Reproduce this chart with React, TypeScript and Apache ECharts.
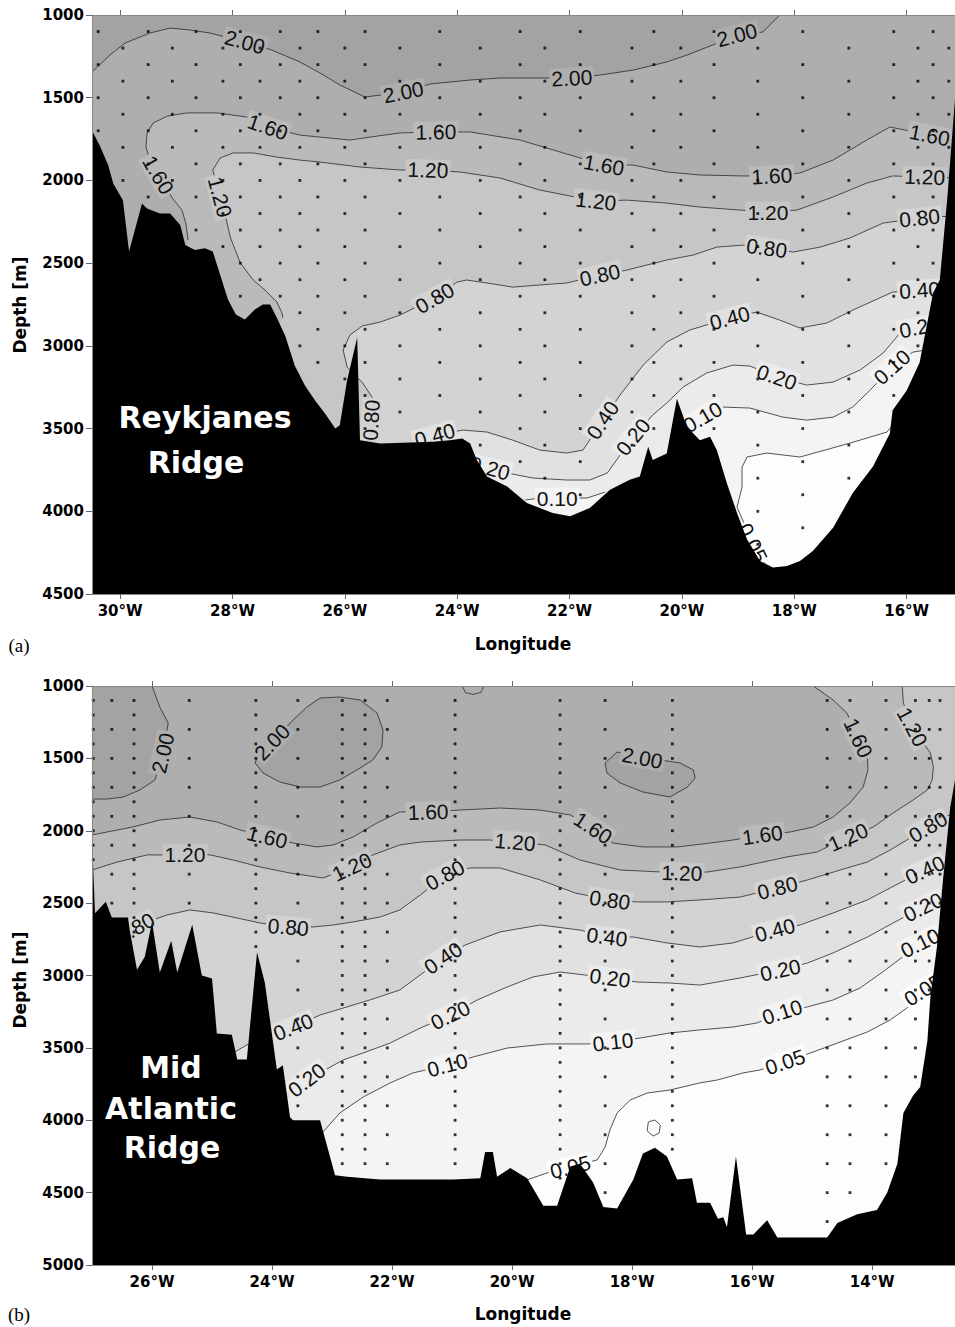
import React, { useEffect, useRef } from "react";
import * as echarts from "echarts";

type P = [number, number];

// ---------------- ticks ----------------
const xTicksA = [-30, -28, -26, -24, -22, -20, -18, -16];
const xTicksB = [-26, -24, -22, -20, -18, -16, -14];

// fill colour of the region deeper than each contour level
const FILL: Record<string, string> = {
  top: "#a3a3a3",
  "2.00": "#aeaeae",
  "1.60": "#bababa",
  "1.20": "#c6c6c6",
  "0.80": "#d3d3d3",
  "0.40": "#e1e1e1",
  "0.20": "#ebebeb",
  "0.10": "#f4f4f4",
  "0.05": "#fdfdfd",
};

// ---------------- Panel (a): Reykjanes Ridge ----------------
const bathyA: P[] = [[-30.50,1700],[-30.36,1790],[-30.21,1910],[-30.12,2020],[-29.95,2120],[-29.84,2430],[-29.61,2140],[-29.52,2170],[-29.29,2200],[-29.11,2200],[-28.93,2270],[-28.84,2390],[-28.67,2420],[-28.49,2410],[-28.35,2430],[-28.22,2570],[-28.08,2720],[-27.94,2810],[-27.78,2840],[-27.60,2780],[-27.46,2750],[-27.33,2750],[-27.21,2830],[-27.06,2940],[-26.89,3120],[-26.71,3240],[-26.53,3330],[-26.35,3410],[-26.17,3500],[-26.09,3480],[-25.96,3210],[-25.78,2950],[-25.73,3570],[-25.37,3590],[-24.43,3580],[-24.13,3570],[-23.91,3560],[-23.77,3590],[-23.65,3690],[-23.47,3790],[-23.11,3850],[-22.76,3950],[-22.30,4010],[-21.99,4030],[-21.64,3980],[-21.28,3870],[-20.93,3810],[-20.75,3790],[-20.60,3610],[-20.52,3690],[-20.27,3650],[-20.09,3320],[-19.91,3490],[-19.68,3570],[-19.50,3550],[-19.38,3630],[-19.20,3830],[-19.02,4010],[-18.84,4170],[-18.61,4300],[-18.38,4340],[-18.13,4330],[-17.90,4300],[-17.67,4240],[-17.31,4100],[-16.96,3890],[-16.60,3730],[-16.30,3530],[-16.25,3390],[-16.00,3270],[-15.77,3100],[-15.53,2680],[-15.41,2600],[-15.28,2120],[-15.14,1510]];

const c200A: P[] = [[-30.50,1345],[-30.18,1242],[-29.91,1169],[-29.47,1109],[-29.11,1079],[-28.75,1091],[-28.40,1109],[-27.78,1163],[-27.30,1212],[-26.80,1284],[-26.44,1351],[-26.09,1423],[-25.64,1496],[-24.96,1466],[-24.48,1417],[-23.77,1393],[-23.24,1381],[-22.53,1381],[-21.96,1381],[-21.46,1363],[-20.87,1333],[-20.27,1284],[-19.91,1242],[-19.45,1181],[-19.02,1121],[-18.56,1103],[-18.26,1000]];
const c160A: P[] = [[-28.79,2360],[-28.83,2258],[-28.90,2179],[-29.07,2106],[-29.32,1967],[-29.47,1877],[-29.54,1798],[-29.52,1713],[-29.41,1653],[-29.16,1611],[-28.81,1592],[-28.27,1592],[-27.74,1617],[-27.37,1677],[-26.80,1726],[-26.44,1738],[-25.91,1756],[-25.55,1738],[-25.02,1713],[-24.38,1707],[-23.77,1707],[-22.88,1756],[-22.17,1828],[-21.39,1907],[-20.87,1907],[-20.27,1949],[-19.68,1967],[-18.91,1973],[-18.40,1973],[-17.90,1955],[-17.31,1877],[-16.71,1756],[-16.30,1677],[-15.59,1726],[-15.14,1756]];
const c120A: P[] = [[-27.10,2830],[-27.12,2800],[-27.21,2735],[-27.42,2663],[-27.63,2602],[-27.86,2499],[-28.04,2342],[-28.10,2252],[-28.22,2100],[-28.35,1937],[-28.22,1865],[-27.99,1834],[-27.63,1834],[-27.21,1859],[-26.80,1877],[-26.44,1889],[-25.73,1919],[-25.02,1937],[-24.52,1937],[-23.95,1949],[-23.24,1985],[-22.53,2058],[-21.53,2125],[-20.98,2119],[-20.27,2137],[-19.68,2161],[-18.97,2179],[-18.47,2191],[-17.95,2179],[-17.31,2100],[-16.71,2016],[-16.25,1973],[-15.68,1979],[-15.14,1985]];
const c080A: P[] = [[-25.52,3570],[-25.53,3449],[-25.48,3328],[-25.68,3225],[-25.96,3128],[-26.03,3025],[-25.91,2935],[-25.69,2880],[-25.37,2856],[-25.02,2814],[-24.40,2711],[-24.00,2614],[-23.83,2602],[-23.47,2620],[-23.01,2645],[-22.53,2632],[-22.05,2620],[-21.46,2572],[-20.98,2542],[-20.27,2481],[-19.80,2451],[-19.38,2403],[-18.91,2391],[-18.49,2409],[-18.02,2433],[-17.54,2403],[-17.01,2348],[-16.42,2258],[-15.77,2227],[-15.14,2215]];
const c040A: P[] = [[-24.75,3588],[-24.40,3540],[-23.90,3509],[-23.47,3521],[-23.01,3570],[-22.53,3630],[-22.05,3648],[-21.76,3630],[-21.41,3449],[-21.10,3297],[-20.69,3116],[-20.27,2977],[-19.86,2904],[-19.15,2832],[-18.67,2796],[-18.26,2844],[-17.90,2892],[-17.42,2862],[-16.96,2784],[-16.25,2675],[-15.77,2663],[-15.14,2651]];
const c020A: P[] = [[-23.63,3721],[-23.42,3739],[-23.11,3769],[-22.65,3799],[-22.05,3811],[-21.64,3811],[-21.33,3769],[-21.10,3660],[-20.87,3551],[-20.52,3418],[-20.27,3346],[-19.98,3249],[-19.56,3164],[-19.09,3116],[-18.79,3122],[-18.31,3189],[-17.78,3237],[-17.31,3219],[-16.83,3146],[-16.42,3044],[-16.12,2923],[-15.77,2886],[-15.14,2856]];
const c010A1: P[] = [[-22.79,3932],[-22.53,3920],[-22.22,3920],[-21.69,3920],[-21.37,3884]];
const c010A2: P[] = [[-19.89,3491],[-19.63,3431],[-19.27,3370],[-18.79,3376],[-18.20,3431],[-17.78,3449],[-17.31,3431],[-16.96,3370],[-16.65,3267],[-16.26,3128],[-15.89,3038],[-15.14,2995]];
const c005A: P[] = [[-18.49,4337],[-18.74,4192],[-19.02,3975],[-18.93,3854],[-18.93,3733],[-18.84,3672],[-18.49,3648],[-17.90,3672],[-17.01,3588],[-16.35,3521],[-16.25,3479]];

const labelsA: [number, number, string][] = [
  [-27.78,1163,"2.00"],[-24.96,1466,"2.00"],[-21.96,1381,"2.00"],[-19.02,1121,"2.00"],
  [-29.32,1967,"1.60"],[-27.37,1677,"1.60"],[-24.38,1707,"1.60"],[-21.39,1907,"1.60"],[-18.40,1973,"1.60"],[-15.59,1726,"1.60"],
  [-28.22,2100,"1.20"],[-24.52,1937,"1.20"],[-21.53,2125,"1.20"],[-18.47,2191,"1.20"],[-15.68,1979,"1.20"],
  [-25.53,3449,"0.80"],[-24.40,2711,"0.80"],[-21.46,2572,"0.80"],[-18.49,2409,"0.80"],[-15.77,2227,"0.80"],
  [-24.40,3540,"0.40"],[-21.41,3449,"0.40"],[-19.15,2832,"0.40"],[-15.77,2663,"0.40"],
  [-23.42,3739,"0.20"],[-20.87,3551,"0.20"],[-18.31,3189,"0.20"],[-15.77,2886,"0.20"],
  [-22.22,3920,"0.10"],[-19.63,3431,"0.10"],[-16.26,3128,"0.10"],
  [-18.74,4192,"0.05"],
];

const stationsA1 = [-30.39, -29.50, -28.65, -27.86, -27.15, -26.48, -25.64, -24.31, -22.88, -21.81, -20.50, -19.43, -17.85, -16.23, -15.53];
const stationsA2 = [-29.95, -29.07, -28.17, -27.51, -26.80, -26.00, -25.02, -23.59, -22.44, -20.89, -20.02, -18.65, -17.03, -15.80, -15.25];
const depthsA1 = [1100, 1300, 1500, 1700, 1900, 2100, 2300, 2500, 2700, 2900, 3100, 3300, 3500, 3700, 3900, 4100, 4300];
const depthsA2 = [1200, 1400, 1600, 1800, 2000, 2200, 2400, 2600, 2800, 3000, 3200, 3400, 3600, 3800, 4000, 4200, 4400];

// ---------------- Panel (b): Mid Atlantic Ridge ----------------
const bathyB: P[] = [[-27.00,2060],[-26.95,2570],[-26.77,2490],[-26.67,2600],[-26.40,2600],[-26.37,2690],[-26.25,2960],[-26.12,2870],[-26.00,2630],[-25.87,2980],[-25.68,2760],[-25.58,2980],[-25.33,2650],[-25.17,3000],[-25.00,3020],[-24.92,3400],[-24.67,3410],[-24.58,3580],[-24.42,3580],[-24.25,2840],[-24.12,3050],[-23.92,3650],[-23.82,3620],[-23.70,3980],[-23.65,4000],[-23.20,4000],[-22.95,4380],[-22.75,4390],[-22.20,4410],[-21.42,4410],[-20.98,4410],[-20.53,4400],[-20.45,4220],[-20.32,4220],[-20.25,4390],[-20.03,4330],[-19.75,4400],[-19.48,4590],[-19.25,4590],[-19.03,4320],[-18.87,4300],[-18.65,4430],[-18.48,4600],[-18.25,4610],[-17.98,4410],[-17.82,4230],[-17.62,4190],[-17.42,4250],[-17.25,4410],[-17.00,4400],[-16.92,4570],[-16.70,4570],[-16.57,4680],[-16.48,4670],[-16.42,4740],[-16.27,4250],[-16.10,4790],[-15.98,4790],[-15.75,4690],[-15.58,4810],[-14.75,4810],[-14.58,4710],[-14.25,4650],[-13.92,4620],[-13.75,4500],[-13.58,4300],[-13.48,3950],[-13.32,3830],[-13.20,3770],[-13.08,3450],[-13.03,3150],[-12.92,2800],[-12.82,2340],[-12.70,1840],[-12.62,1650]];

const c200B1: P[] = [[-26.00,1000],[-25.87,1145],[-25.73,1256],[-25.82,1463],[-25.95,1649],[-26.20,1718],[-26.48,1767],[-26.75,1781],[-27.00,1781]];
const c200B2: P[] = [[-24.28,1532],[-24.15,1601],[-23.87,1663],[-23.53,1698],[-23.20,1698],[-22.87,1649],[-22.53,1566],[-22.32,1511],[-22.17,1421],[-22.15,1304],[-22.25,1187],[-22.53,1097],[-22.87,1076],[-23.20,1083],[-23.42,1145],[-23.65,1235],[-24.00,1387],[-24.25,1490],[-24.28,1532]];
const c200B3: P[] = [[-18.25,1456],[-18.45,1532],[-18.42,1601],[-18.20,1670],[-17.82,1732],[-17.37,1767],[-17.08,1698],[-16.95,1636],[-16.98,1580],[-17.20,1532],[-17.53,1511],[-17.83,1497],[-18.25,1456]];
const c160B: P[] = [[-27.00,2029],[-26.32,1974],[-25.87,1926],[-25.37,1905],[-24.92,1939],[-24.53,1995],[-24.08,2043],[-23.65,2085],[-23.25,2112],[-22.98,2098],[-22.65,2043],[-22.25,1946],[-21.87,1870],[-21.40,1870],[-20.87,1857],[-20.20,1843],[-19.53,1857],[-19.03,1891],[-18.65,1981],[-18.32,2085],[-17.82,2112],[-17.25,2112],[-16.70,2085],[-16.32,2064],[-15.83,2029],[-15.37,2009],[-14.98,1974],[-14.65,1905],[-14.37,1808],[-14.15,1698],[-14.07,1580],[-14.08,1490],[-14.23,1359],[-14.42,1187],[-14.65,1097],[-14.98,1000]];
const c120B: P[] = [[-27.00,2271],[-26.58,2216],[-26.08,2167],[-25.45,2167],[-25.03,2167],[-24.65,2202],[-24.20,2250],[-23.70,2292],[-23.15,2326],[-22.67,2250],[-22.32,2167],[-21.87,2098],[-21.53,2078],[-20.87,2064],[-20.37,2064],[-19.95,2078],[-19.45,2098],[-18.87,2202],[-18.20,2271],[-17.17,2292],[-16.75,2285],[-16.20,2250],[-15.42,2181],[-14.92,2147],[-14.40,2043],[-13.98,1974],[-13.65,1877],[-13.32,1788],[-13.08,1718],[-13.00,1649],[-12.98,1560],[-13.03,1463],[-13.33,1283],[-13.48,1117],[-13.50,1000]];
const c080B: P[] = [[-26.37,2699],[-26.28,2672],[-26.08,2630],[-25.75,2582],[-25.37,2547],[-24.98,2568],[-24.58,2603],[-24.20,2637],[-23.73,2665],[-23.32,2665],[-22.98,2651],[-22.65,2630],[-22.20,2596],[-21.87,2547],[-21.53,2444],[-21.12,2306],[-20.70,2257],[-20.20,2257],[-19.53,2340],[-18.95,2430],[-18.37,2478],[-17.92,2492],[-17.42,2492],[-16.87,2478],[-16.20,2458],[-15.58,2395],[-15.08,2340],[-14.53,2271],[-14.08,2216],[-13.70,2133],[-13.42,2064],[-13.07,1974],[-12.62,1870]];
const c040B: P[] = [[-24.62,3528],[-24.42,3480],[-24.03,3411],[-23.65,3356],[-23.20,3273],[-22.75,3217],[-22.37,3169],[-21.87,3100],[-21.53,2996],[-21.15,2879],[-20.78,2789],[-20.20,2699],[-19.53,2651],[-18.87,2686],[-18.42,2734],[-17.98,2734],[-17.42,2775],[-16.87,2803],[-16.32,2775],[-15.62,2686],[-15.20,2651],[-14.65,2568],[-14.08,2478],[-13.70,2395],[-13.12,2271],[-12.62,2188]];
const c020B: P[] = [[-23.67,3825],[-23.42,3722],[-23.20,3673],[-22.82,3584],[-22.48,3535],[-22.03,3466],[-21.53,3363],[-21.03,3273],[-20.58,3169],[-20.08,3079],[-19.65,3010],[-19.20,2976],[-18.37,3017],[-17.92,3045],[-17.37,3052],[-16.87,3066],[-16.20,3017],[-15.53,2962],[-15.08,2914],[-14.65,2844],[-14.08,2734],[-13.65,2637],[-13.15,2527],[-12.62,2430]];
const c010B: P[] = [[-23.15,4081],[-22.87,3950],[-22.48,3839],[-22.03,3742],[-21.65,3673],[-21.08,3618],[-20.65,3563],[-20.08,3501],[-19.42,3473],[-18.75,3473],[-18.32,3459],[-17.87,3432],[-17.37,3397],[-16.87,3376],[-16.32,3356],[-15.92,3328],[-15.50,3252],[-15.08,3217],[-14.65,3169],[-14.20,3086],[-13.78,2962],[-13.45,2858],[-13.20,2775],[-12.62,2686]];
const c005B: P[] = [[-19.75,4412],[-19.37,4357],[-19.03,4323],[-18.58,4274],[-18.45,4185],[-18.37,4067],[-18.25,3950],[-18.03,3860],[-17.75,3812],[-17.37,3791],[-16.87,3742],[-16.58,3722],[-16.15,3673],[-15.87,3653],[-15.45,3597],[-14.98,3528],[-14.53,3459],[-14.08,3390],[-13.70,3307],[-13.42,3224],[-13.28,3169],[-13.15,3100],[-12.62,2996]];
const loopSmallB: P[] = [[-17.73,4012],[-17.62,3998],[-17.53,4033],[-17.55,4088],[-17.65,4109],[-17.75,4074],[-17.73,4012]];
const loopTopB: P[] = [[-20.83,1000],[-20.78,1045],[-20.65,1058],[-20.52,1045],[-20.47,1000]];

const labelsB: [number, number, string][] = [
  [-25.82,1463,"2.00"],[-24.00,1387,"2.00"],[-17.83,1497,"2.00"],
  [-24.08,2043,"1.60"],[-21.40,1870,"1.60"],[-18.65,1981,"1.60"],[-15.83,2029,"1.60"],[-14.23,1359,"1.60"],
  [-25.45,2167,"1.20"],[-22.67,2250,"1.20"],[-19.95,2078,"1.20"],[-17.17,2292,"1.20"],[-14.40,2043,"1.20"],[-13.33,1283,"1.20"],
  [-26.28,2672,"0.80"],[-23.73,2665,"0.80"],[-21.12,2306,"0.80"],[-18.37,2478,"0.80"],[-15.58,2395,"0.80"],[-13.07,1974,"0.80"],
  [-23.65,3356,"0.40"],[-21.15,2879,"0.40"],[-18.42,2734,"0.40"],[-15.62,2686,"0.40"],[-13.12,2271,"0.40"],
  [-23.42,3722,"0.20"],[-21.03,3273,"0.20"],[-18.37,3017,"0.20"],[-15.53,2962,"0.20"],[-13.15,2527,"0.20"],
  [-21.08,3618,"0.10"],[-18.32,3459,"0.10"],[-15.50,3252,"0.10"],[-13.20,2775,"0.10"],
  [-19.03,4323,"0.05"],[-15.45,3597,"0.05"],[-13.15,3100,"0.05"],
];

const denseStationsB = [-26.98, -26.30, -24.27, -22.83, -22.45, -20.95, -19.20, -17.33];
const sparseStationsB = [-26.67, -25.38, -23.57, -22.08, -18.45, -14.75, -14.37, -13.77, -13.28, -13.05, -12.87];
const depthsDenseB = [1100,1200,1300,1400,1500,1600,1700,1800,1900,2000,2100,2200,2300,2400,2500,2600,2700,2800,2900,3000,3100,3200,3300,3400,3500,3600,3700,3800,3900,4000,4100,4200,4300,4400,4500,4600,4700,4800,4900];
const depthsSparseB = [1100,1300,1500,1700,1900,2100,2300,2500,2700,2900,3100,3300,3500,3700,3900,4100,4300,4500,4700,4900];

// ---------------- helpers ----------------
type Fill = { line: P[]; band: string; close: string[] };
type Contour = { level: string; pts: P[] };
type Bounds = { x0: number; x1: number; y0: number; y1: number };

const boundsA: Bounds = { x0: -30.5, x1: -15.14, y0: 1000, y1: 4500 };
const boundsB: Bounds = { x0: -27.0, x1: -12.62, y0: 1000, y1: 5000 };

const fillsA: Fill[] = [
  { line: c200A, band: "2.00", close: ["tr", "br", "bl"] },
  { line: c160A, band: "1.60", close: ["br", "bl"] },
  { line: c120A, band: "1.20", close: ["br", "bl"] },
  { line: c080A, band: "0.80", close: ["br", "bl"] },
  { line: c040A, band: "0.40", close: ["br", "bl"] },
  { line: c020A, band: "0.20", close: ["br", "bl"] },
  { line: c010A1, band: "0.10", close: ["lb", "fb"] },
  { line: c010A2, band: "0.10", close: ["lb", "fb"] },
  { line: c005A, band: "0.05", close: ["lb", "fb"] },
];
const contoursA: Contour[] = [
  { level: "2.00", pts: c200A }, { level: "1.60", pts: c160A }, { level: "1.20", pts: c120A },
  { level: "0.80", pts: c080A }, { level: "0.40", pts: c040A }, { level: "0.20", pts: c020A },
  { level: "0.10", pts: c010A1 }, { level: "0.10", pts: c010A2 }, { level: "0.05", pts: c005A },
];

const fillsB: Fill[] = [
  { line: c200B1, band: "top", close: ["tl"] },
  { line: c200B2, band: "top", close: [] },
  { line: c200B3, band: "top", close: [] },
  { line: c160B, band: "1.60", close: ["tr", "br", "bl"] },
  { line: c120B, band: "1.20", close: ["tr", "br", "bl"] },
  { line: c080B, band: "0.80", close: ["br", "bl"] },
  { line: c040B, band: "0.40", close: ["br", "bl"] },
  { line: c020B, band: "0.20", close: ["br", "bl"] },
  { line: c010B, band: "0.10", close: ["br", "bl"] },
  { line: c005B, band: "0.05", close: ["br", "bl"] },
];
const contoursB: Contour[] = [
  { level: "2.00", pts: c200B1 }, { level: "2.00", pts: c200B2 }, { level: "2.00", pts: c200B3 },
  { level: "1.60", pts: c160B }, { level: "1.20", pts: c120B }, { level: "0.80", pts: c080B },
  { level: "0.40", pts: c040B }, { level: "0.20", pts: c020B }, { level: "0.10", pts: c010B },
  { level: "0.05", pts: c005B }, { level: "0.05", pts: loopSmallB }, { level: "2.00", pts: loopTopB },
];

function bottomAt(bathy: P[], lon: number): number {
  for (let i = 0; i < bathy.length - 1; i++) {
    const [xa, ya] = bathy[i];
    const [xb, yb] = bathy[i + 1];
    if (lon >= xa && lon <= xb) return ya + ((yb - ya) * (lon - xa)) / (xb - xa || 1);
  }
  return 0;
}
function stationDots(stations: number[], depths: number[], bathy: P[]): P[] {
  const out: P[] = [];
  stations.forEach((lon) => {
    const bot = bottomAt(bathy, lon);
    depths.forEach((d) => {
      if (d < bot - 60) out.push([lon, d]);
    });
  });
  return out;
}

function panelSeries(gi: number, b: Bounds, fills: Fill[], contours: Contour[], labels: [number, number, string][], bathy: P[], dots: P[]) {
  const xi = gi * 2;
  const common = { coordinateSystem: "cartesian2d", xAxisIndex: xi, yAxisIndex: gi, silent: true, clip: true };
  const corner = (c: string, line: P[]): P => {
    const first = line[0];
    const last = line[line.length - 1];
    if (c === "tl") return [b.x0, b.y0];
    if (c === "tr") return [b.x1, b.y0];
    if (c === "br") return [b.x1, b.y1];
    if (c === "bl") return [b.x0, b.y1];
    if (c === "lb") return [last[0], b.y1];
    return [first[0], b.y1];
  };
  return [
    {
      type: "custom", ...common, z: 1,
      data: fills.map((f) => f.line[0]),
      renderItem: (params: any, api: any) => {
        const f = fills[params.dataIndex];
        const pts: P[] = f.line.slice();
        f.close.forEach((c) => pts.push(corner(c, f.line)));
        return { type: "polygon", shape: { points: pts.map((p) => api.coord(p)) }, style: { fill: FILL[f.band] } };
      },
    },
    {
      type: "custom", ...common, z: 2,
      data: contours.map((c) => c.pts[0]),
      renderItem: (params: any, api: any) => {
        const c = contours[params.dataIndex];
        return {
          type: "polyline",
          shape: { points: c.pts.map((p) => api.coord(p)) },
          style: { stroke: "#2a2a2a", lineWidth: 0.8, fill: null },
        };
      },
    },
    {
      type: "custom", ...common, z: 3,
      data: labels.map((l) => [l[0], l[1]]),
      renderItem: (params: any, api: any) => {
        const [lon, dep, txt] = labels[params.dataIndex];
        const c = api.coord([lon, dep]);
        let best = Infinity;
        let ang = 0;
        contours.filter((k) => k.level === txt).forEach((k) => {
          const px = k.pts.map((p) => api.coord(p));
          for (let i = 0; i < px.length; i++) {
            const d = Math.hypot(px[i][0] - c[0], px[i][1] - c[1]);
            if (d < best) {
              best = d;
              const p0 = px[Math.max(i - 1, 0)];
              const p1 = px[Math.min(i + 1, px.length - 1)];
              ang = Math.atan2(-(p1[1] - p0[1]), p1[0] - p0[0]);
            }
          }
        });
        if (ang > Math.PI / 2) ang -= Math.PI;
        if (ang <= -Math.PI / 2) ang += Math.PI;
        return {
          type: "text", x: c[0], y: c[1], rotation: ang,
          style: {
            text: txt, font: '21px "Liberation Sans", Arial, sans-serif', fill: "#111",
            align: "center", verticalAlign: "middle", backgroundColor: FILL[txt], padding: [0, 2],
          },
        };
      },
    },
    {
      type: "custom", ...common, z: 4,
      data: [bathy[0]],
      renderItem: (params: any, api: any) => {
        const pts: P[] = bathy.slice();
        pts.push([b.x1, b.y1], [b.x0, b.y1]);
        return { type: "polygon", shape: { points: pts.map((p) => api.coord(p)) }, style: { fill: "#000" } };
      },
    },
    {
      type: "scatter", xAxisIndex: xi, yAxisIndex: gi, silent: true, z: 5,
      symbol: "rect", symbolSize: 2.8, itemStyle: { color: "#000" },
      data: dots,
    },
  ];
}

const axisFont = { fontFamily: "DejaVu Sans", fontWeight: "bold", fontSize: 15, color: "#000" };

function xAxes(gi: number, b: Bounds, ticks: number[]) {
  const base = {
    gridIndex: gi, type: "value", min: b.x0, max: b.x1, z: 10,
    axisLine: { show: true, lineStyle: { color: "#888", width: 1 } },
    axisTick: { show: true, customValues: ticks, length: 5, lineStyle: { color: "#666" } },
    splitLine: { show: false },
  };
  return [
    { ...base, position: "bottom", axisLabel: { ...axisFont, customValues: ticks, margin: 9, formatter: (v: number) => `${Math.abs(v)}°W` } },
    { ...base, position: "top", axisLabel: { show: false } },
  ];
}
function yAxis(gi: number, b: Bounds) {
  return {
    gridIndex: gi, type: "value", inverse: true, min: b.y0, max: b.y1, interval: 500, z: 10,
    axisLine: { show: true, lineStyle: { color: "#888", width: 1 } },
    axisTick: { show: true, length: 6, lineStyle: { color: "#666" } },
    axisLabel: { ...axisFont, margin: 8, formatter: (v: number) => String(v) },
    splitLine: { show: false },
  };
}

export default function App() {
  const ref = useRef<HTMLDivElement>(null);
  useEffect(() => {
    if (!ref.current) return;
    const chart = echarts.init(ref.current, undefined, { renderer: "svg" });
    const dotsA = [...stationDots(stationsA1, depthsA1, bathyA), ...stationDots(stationsA2, depthsA2, bathyA)];
    const dotsB = [...stationDots(denseStationsB, depthsDenseB, bathyB), ...stationDots(sparseStationsB, depthsSparseB, bathyB)];
    const white = (text: string, x: number, y: number) => ({
      type: "text", x, y, z: 100,
      style: { text, font: 'bold 30px "DejaVu Sans"', fill: "#fff", align: "center", verticalAlign: "middle" },
    });
    const black = (text: string, x: number, y: number, font: string, rot = 0) => ({
      type: "text", x, y, z: 100, rotation: rot,
      style: { text, font, fill: "#000", align: "center", verticalAlign: "middle" },
    });
    chart.setOption({
      animation: false,
      backgroundColor: "#fff",
      grid: [
        { left: 92, top: 15, right: 0, height: 579, show: true, backgroundColor: FILL.top, borderWidth: 0 },
        { left: 92, top: 686, right: 0, height: 579, show: true, backgroundColor: FILL["2.00"], borderWidth: 0 },
      ],
      xAxis: [...xAxes(0, boundsA, xTicksA), ...xAxes(1, boundsB, xTicksB)],
      yAxis: [yAxis(0, boundsA), yAxis(1, boundsB)],
      series: [
        ...panelSeries(0, boundsA, fillsA, contoursA, labelsA, bathyA, dotsA),
        ...panelSeries(1, boundsB, fillsB, contoursB, labelsB, bathyB, dotsB),
      ],
      graphic: [
        black("Longitude", 523, 644, 'bold 17px "DejaVu Sans"'),
        black("Longitude", 523, 1314, 'bold 17px "DejaVu Sans"'),
        black("Depth [m]", 20, 305, 'bold 17px "DejaVu Sans"', Math.PI / 2),
        black("Depth [m]", 20, 980, 'bold 17px "DejaVu Sans"', Math.PI / 2),
        black("(a)", 19, 645, '19px "Liberation Serif", serif'),
        black("(b)", 19, 1314, '19px "Liberation Serif", serif'),
        white("Reykjanes", 205, 417),
        white("Ridge", 196, 462),
        white("Mid", 171, 1067),
        white("Atlantic", 171, 1108),
        white("Ridge", 172, 1147),
      ],
    });
    return () => chart.dispose();
  }, []);
  return <div ref={ref} style={{ position: "absolute", left: 0, top: 0, width: 955, height: 1327 }} />;
}
